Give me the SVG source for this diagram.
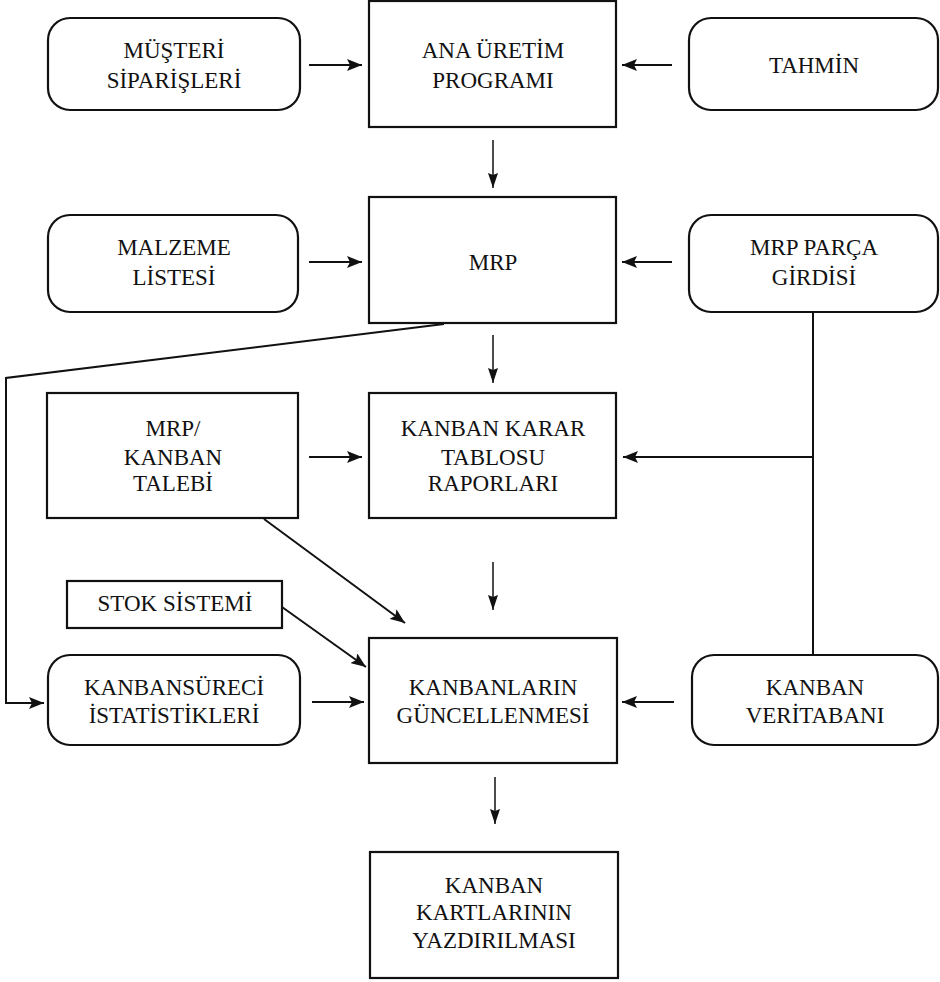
<svg xmlns="http://www.w3.org/2000/svg" width="940" height="982" viewBox="0 0 940 982">
<style>
.box{fill:#fff;stroke:#111;stroke-width:2.2}
.t{font-family:'Liberation Serif','DejaVu Serif','Times New Roman',serif;font-size:23px;fill:#111;text-anchor:middle}
.c{fill:none;stroke:#111;stroke-width:2}
.v{fill:none;stroke:#111;stroke-width:1.5}
</style>
<defs>
<marker id="ah" markerUnits="userSpaceOnUse" markerWidth="16" markerHeight="12" refX="15" refY="6" orient="auto">
<path d="M0,0 L15,6 L0,12 L3,6 z" fill="#111"/>
</marker>
<marker id="av" markerUnits="userSpaceOnUse" markerWidth="16" markerHeight="10" refX="15" refY="5" orient="auto">
<path d="M0,0 L15,5 L0,10 L2,5 z" fill="#111"/>
</marker>
</defs>
<rect width="940" height="982" fill="#fff"/>
<g id="connectors">
<line class="c" x1="309" y1="65" x2="362" y2="65" marker-end="url(#ah)"/>
<line class="c" x1="672" y1="65" x2="622" y2="65" marker-end="url(#ah)"/>
<line class="v" x1="493" y1="140" x2="493" y2="188" marker-end="url(#av)"/>
<line class="c" x1="309" y1="262" x2="362" y2="262" marker-end="url(#ah)"/>
<line class="c" x1="672" y1="262" x2="622" y2="262" marker-end="url(#ah)"/>
<line class="v" x1="493" y1="335" x2="493" y2="383" marker-end="url(#av)"/>
<polyline class="c" points="444,324 6,378 6,703 44,703" marker-end="url(#ah)"/>
<line class="c" x1="309" y1="457" x2="362" y2="457" marker-end="url(#ah)"/>
<polyline class="c" points="813,312 813,655"/>
<line class="c" x1="813" y1="457" x2="623" y2="457" marker-end="url(#ah)"/>
<line class="c" x1="264" y1="519" x2="405" y2="623" marker-end="url(#ah)"/>
<line class="v" x1="493" y1="562" x2="493" y2="610" marker-end="url(#av)"/>
<line class="c" x1="282" y1="607" x2="366" y2="667" marker-end="url(#ah)"/>
<line class="c" x1="312" y1="702" x2="364" y2="702" marker-end="url(#ah)"/>
<line class="c" x1="674" y1="702" x2="622" y2="702" marker-end="url(#ah)"/>
<line class="v" x1="495" y1="777" x2="495" y2="824" marker-end="url(#av)"/>
</g>
<g id="musteri"><rect class="box" x="48" y="18" width="252" height="92" rx="22"/><text class="t" x="174" y="58">MÜŞTERİ</text><text class="t" x="174" y="88">SİPARİŞLERİ</text></g>
<g id="ana"><rect class="box" x="369" y="1" width="247" height="126"/><text class="t" x="493" y="58">ANA ÜRETİM</text><text class="t" x="493" y="88">PROGRAMI</text></g>
<g id="tahmin"><rect class="box" x="689" y="18" width="249" height="92" rx="22"/><text class="t" x="814" y="73">TAHMİN</text></g>
<g id="malzeme"><rect class="box" x="48" y="215" width="250" height="97" rx="22"/><text class="t" x="174" y="255">MALZEME</text><text class="t" x="174" y="285">LİSTESİ</text></g>
<g id="mrp"><rect class="box" x="369" y="197" width="247" height="126"/><text class="t" x="493" y="270">MRP</text></g>
<g id="parca"><rect class="box" x="689" y="215" width="249" height="97" rx="22"/><text class="t" x="814" y="255">MRP PARÇA</text><text class="t" x="814" y="285">GİRDİSİ</text></g>
<g id="talep"><rect class="box" x="47" y="393" width="251" height="125"/><text class="t" x="173" y="436">MRP/</text><text class="t" x="173" y="465">KANBAN</text><text class="t" x="173" y="491">TALEBİ</text></g>
<g id="karar"><rect class="box" x="369" y="393" width="247" height="125"/><text class="t" x="493" y="436">KANBAN KARAR</text><text class="t" x="493" y="465">TABLOSU</text><text class="t" x="493" y="491">RAPORLARI</text></g>
<g id="stok"><rect class="box" x="67" y="581" width="215" height="47"/><text class="t" x="175" y="611">STOK SİSTEMİ</text></g>
<g id="surec"><rect class="box" x="48" y="655" width="252" height="90" rx="22"/><text class="t" x="174" y="695">KANBANSÜRECİ</text><text class="t" x="174" y="723">İSTATİSTİKLERİ</text></g>
<g id="guncelleme"><rect class="box" x="369" y="638" width="248" height="125"/><text class="t" x="493" y="695">KANBANLARIN</text><text class="t" x="493" y="723">GÜNCELLENMESİ</text></g>
<g id="veritabani"><rect class="box" x="692" y="655" width="246" height="90" rx="22"/><text class="t" x="815" y="695">KANBAN</text><text class="t" x="815" y="723">VERİTABANI</text></g>
<g id="yazdirma"><rect class="box" x="370" y="852" width="248" height="126"/><text class="t" x="494" y="893">KANBAN</text><text class="t" x="494" y="920">KARTLARININ</text><text class="t" x="494" y="948">YAZDIRILMASI</text></g>
</svg>
